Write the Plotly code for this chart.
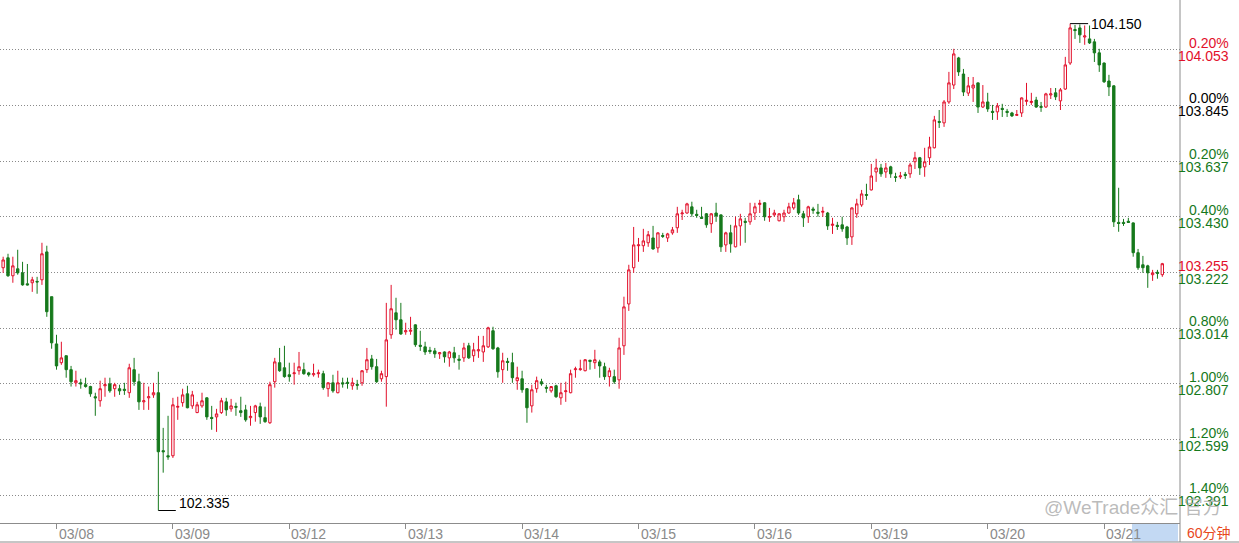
import plotly.graph_objects as go

# ---------------- data (hourly USD index candles) ----------------
opens = [
103.240,103.277,103.210,103.236,103.221,103.180,103.184,103.189,103.195,103.299,
103.132,102.956,102.886,102.912,102.860,102.811,102.811,102.804,102.797,102.759,
102.744,102.800,102.807,102.789,102.789,102.787,102.774,102.860,102.815,102.740,
102.755,102.766,102.774,102.558,102.539,102.539,102.720,102.737,102.770,102.725,
102.700,102.725,102.755,102.682,102.684,102.700,102.740,102.714,102.723,102.707,
102.710,102.681,102.700,102.722,102.681,102.662,102.815,102.886,102.867,102.841,
102.845,102.856,102.860,102.848,102.841,102.845,102.845,102.789,102.811,102.774,
102.811,102.813,102.800,102.805,102.811,102.860,102.900,102.871,102.826,102.834,
102.990,103.072,103.046,103.001,103.003,103.027,102.951,102.945,102.932,102.930,
102.919,102.926,102.904,102.923,102.899,102.904,102.949,102.912,102.930,102.926,
102.945,103.005,102.941,102.860,102.891,102.886,102.819,102.826,102.789,102.725,
102.789,102.815,102.794,102.781,102.800,102.755,102.778,102.774,102.860,102.860,
102.856,102.895,102.886,102.889,102.871,102.834,102.834,102.822,102.949,103.105,
103.240,103.322,103.322,103.333,103.351,103.314,103.360,103.351,103.370,103.389,
103.441,103.444,103.467,103.439,103.428,103.441,103.404,103.444,103.437,103.325,
103.370,103.318,103.396,103.413,103.411,103.444,103.476,103.482,103.428,103.437,
103.415,103.430,103.444,103.463,103.493,103.441,103.430,103.459,103.447,103.447,
103.444,103.398,103.398,103.400,103.392,103.355,103.441,103.474,103.513,103.530,
103.597,103.612,103.597,103.616,103.579,103.579,103.588,103.590,103.635,103.650,
103.616,103.650,103.687,103.785,103.780,103.858,103.921,104.022,103.962,103.891,
103.910,103.929,103.839,103.858,103.823,103.821,103.834,103.823,103.817,103.808,
103.817,103.860,103.856,103.865,103.841,103.839,103.884,103.892,103.862,103.906,
104.003,104.128,104.134,104.100,104.093,104.082,104.041,104.003,103.936,103.918,
103.409,103.409,103.413,103.407,103.296,103.251,103.247,103.214,103.223,103.214,
]
highs = [
103.281,103.292,103.281,103.307,103.262,103.254,103.206,103.206,103.333,103.322,
103.132,102.990,102.964,102.912,102.874,102.856,102.826,102.830,102.800,102.774,
102.819,102.830,102.830,102.811,102.804,102.811,102.882,102.904,102.845,102.811,
102.797,102.811,102.852,102.643,102.688,102.755,102.759,102.789,102.800,102.781,
102.740,102.774,102.757,102.725,102.714,102.755,102.755,102.751,102.737,102.759,
102.729,102.725,102.729,102.737,102.722,102.815,102.904,102.941,102.949,102.886,
102.886,102.926,102.886,102.852,102.882,102.860,102.856,102.813,102.841,102.856,
102.830,102.830,102.830,102.822,102.858,102.941,102.915,102.900,102.856,103.109,
103.176,103.128,103.109,103.035,103.057,103.029,103.005,102.964,102.945,102.941,
102.926,102.928,102.930,102.945,102.915,102.960,102.960,102.960,102.986,102.986,
103.020,103.020,102.945,102.923,102.904,102.923,102.871,102.856,102.791,102.804,
102.834,102.826,102.804,102.799,102.804,102.811,102.815,102.860,102.871,102.897,
102.899,102.897,102.934,102.897,102.886,102.867,102.860,102.979,103.132,103.251,
103.392,103.351,103.385,103.377,103.396,103.372,103.370,103.370,103.392,103.467,
103.456,103.482,103.486,103.456,103.467,103.444,103.444,103.482,103.439,103.374,
103.400,103.430,103.441,103.426,103.482,103.482,103.493,103.484,103.463,103.456,
103.443,103.456,103.482,103.500,103.512,103.452,103.471,103.467,103.478,103.467,
103.448,103.426,103.411,103.430,103.396,103.465,103.497,103.530,103.553,103.627,
103.646,103.627,103.631,103.620,103.594,103.597,103.597,103.631,103.672,103.653,
103.687,103.728,103.806,103.828,103.865,103.970,104.056,104.026,103.981,103.951,
103.951,103.931,103.921,103.892,103.847,103.854,103.851,103.832,103.821,103.828,
103.875,103.929,103.892,103.877,103.858,103.892,103.910,103.910,103.910,104.026,
104.150,104.145,104.147,104.143,104.143,104.093,104.056,104.005,103.959,103.920,
103.538,103.422,103.426,103.409,103.310,103.284,103.251,103.232,103.232,103.258,
]
lows = [
103.221,103.206,103.184,103.214,103.173,103.174,103.150,103.143,103.176,103.057,
102.938,102.860,102.878,102.830,102.797,102.797,102.789,102.793,102.759,102.688,
102.722,102.759,102.774,102.759,102.766,102.766,102.755,102.800,102.710,102.710,
102.710,102.755,102.335,102.476,102.524,102.531,102.673,102.722,102.716,102.714,
102.698,102.718,102.673,102.636,102.628,102.695,102.688,102.703,102.688,102.684,
102.666,102.651,102.666,102.658,102.662,102.658,102.793,102.852,102.830,102.815,
102.804,102.841,102.841,102.834,102.834,102.830,102.785,102.759,102.774,102.772,
102.793,102.789,102.785,102.785,102.800,102.848,102.860,102.811,102.815,102.722,
102.975,103.009,102.990,102.990,102.990,102.945,102.930,102.915,102.919,102.904,
102.900,102.886,102.871,102.886,102.860,102.889,102.900,102.889,102.904,102.889,
102.941,102.934,102.830,102.811,102.856,102.811,102.785,102.774,102.662,102.700,
102.774,102.800,102.774,102.774,102.755,102.729,102.740,102.772,102.830,102.856,
102.854,102.860,102.863,102.830,102.822,102.797,102.807,102.789,102.915,103.079,
103.221,103.262,103.299,103.318,103.307,103.296,103.351,103.336,103.363,103.370,
103.418,103.441,103.430,103.426,103.422,103.389,103.370,103.411,103.299,103.299,
103.296,103.316,103.322,103.333,103.400,103.418,103.444,103.415,103.411,103.430,
103.413,103.411,103.441,103.456,103.437,103.392,103.407,103.441,103.430,103.430,
103.381,103.366,103.381,103.374,103.325,103.325,103.426,103.467,103.493,103.528,
103.560,103.579,103.575,103.575,103.560,103.571,103.571,103.575,103.608,103.586,
103.579,103.623,103.685,103.761,103.765,103.851,103.906,103.955,103.880,103.880,
103.858,103.817,103.836,103.821,103.791,103.791,103.802,103.802,103.802,103.806,
103.802,103.847,103.847,103.836,103.821,103.836,103.869,103.865,103.828,103.903,
103.996,104.093,104.078,104.071,104.074,104.007,103.970,103.929,103.880,103.392,
103.374,103.396,103.407,103.281,103.232,103.221,103.165,103.191,103.199,103.206,
]
closes = [
103.269,103.210,103.247,103.221,103.176,103.176,103.195,103.187,103.292,103.076,
102.960,102.874,102.904,102.860,102.815,102.819,102.807,102.797,102.770,102.755,
102.789,102.804,102.781,102.804,102.781,102.783,102.867,102.815,102.740,102.744,
102.759,102.774,102.554,102.554,102.535,102.729,102.723,102.766,102.718,102.766,
102.729,102.744,102.684,102.678,102.695,102.744,102.710,102.725,102.720,102.700,
102.673,102.686,102.725,102.684,102.666,102.804,102.889,102.856,102.834,102.834,
102.848,102.871,102.845,102.841,102.845,102.848,102.793,102.811,102.781,102.811,
102.807,102.809,102.811,102.802,102.856,102.897,102.871,102.815,102.845,102.971,
103.087,103.046,102.993,103.005,103.007,102.953,102.947,102.926,102.928,102.919,
102.923,102.908,102.926,102.904,102.895,102.941,102.904,102.934,102.934,102.949,
103.016,102.938,102.852,102.893,102.887,102.830,102.830,102.785,102.718,102.785,
102.819,102.807,102.791,102.797,102.759,102.774,102.781,102.845,102.863,102.863,
102.897,102.891,102.897,102.874,102.834,102.856,102.815,102.941,103.094,103.232,
103.325,103.325,103.340,103.363,103.310,103.370,103.357,103.366,103.381,103.441,
103.444,103.478,103.441,103.435,103.424,103.400,103.441,103.433,103.318,103.370,
103.329,103.396,103.422,103.409,103.441,103.467,103.480,103.430,103.431,103.444,
103.441,103.444,103.467,103.482,103.444,103.426,103.467,103.454,103.443,103.450,
103.396,103.402,103.394,103.385,103.351,103.463,103.478,103.515,103.510,103.582,
103.612,103.590,103.612,103.590,103.577,103.582,103.584,103.623,103.650,103.612,
103.635,103.690,103.791,103.782,103.858,103.929,104.037,103.970,103.895,103.918,
103.921,103.839,103.858,103.832,103.819,103.843,103.830,103.819,103.806,103.811,
103.873,103.864,103.860,103.839,103.838,103.888,103.888,103.877,103.903,103.996,
104.134,104.124,104.108,104.104,104.078,104.041,103.996,103.933,103.914,103.411,
103.405,103.405,103.409,103.296,103.240,103.240,103.221,103.221,103.219,103.255,
]

day_labels = ["03/08", "03/09", "03/12", "03/13", "03/14",
              "03/15", "03/16", "03/19", "03/20", "03/21"]
day_index = [11, 35, 59, 83, 107, 131, 155, 179, 203, 227]

level_prices = [104.053, 103.845, 103.637, 103.430, 103.222,
                103.014, 102.807, 102.599, 102.391]
level_pcts = ["0.20%", "0.00%", "0.20%", "0.40%", "0.60%",
              "0.80%", "1.00%", "1.20%", "1.40%"]
base_price = 103.845
last_price = 103.255
period_label = "60分钟"
watermark = "@WeTrade众汇 官方"

# ---------------- styling ----------------
RED = "#e2102b"
GREEN = "#16791c"
BLACK = "#000000"
AXIS = "#8c8c8c"
FONT = "Liberation Sans, Arial, sans-serif"
CJK = "Liberation Sans, Noto Sans CJK SC, sans-serif"

W, H = 1239, 543
PLOT_R = 1180          # right edge of plot area (px)
PLOT_B = 523           # bottom edge of plot area (px)
band = (542 - PLOT_B) / PLOT_B   # bottom band height in paper units

x = list(range(len(opens)))

fig = go.Figure(go.Candlestick(
    x=x, open=opens, high=highs, low=lows, close=closes,
    increasing=dict(line=dict(color=RED, width=1), fillcolor="white"),
    decreasing=dict(line=dict(color=GREEN, width=1), fillcolor=GREEN),
    whiskerwidth=0, hoverinfo="skip", showlegend=False,
))

annotations = []
shapes = []

# right-hand price / percent labels
nearest = min(range(len(level_prices)), key=lambda i: abs(level_prices[i] - last_price))
xr = 1231 / PLOT_R
for i, (p, pct) in enumerate(zip(level_prices, level_pcts)):
    col = RED if p > base_price + 1e-9 else (BLACK if abs(p - base_price) < 1e-9 else GREEN)
    top_text, top_col = pct, col
    if i == nearest:
        top_text, top_col = f"{last_price:.3f}", RED
    annotations.append(dict(xref="paper", yref="y", x=xr, y=p, xanchor="right",
                            yanchor="middle", yshift=7, text=top_text, showarrow=False,
                            font=dict(family=FONT, size=14, color=top_col)))
    annotations.append(dict(xref="paper", yref="y", x=xr, y=p, xanchor="right",
                            yanchor="middle", yshift=-6, text=f"{p:.3f}", showarrow=False,
                            font=dict(family=FONT, size=14, color=col)))

# date labels to the right of each tick
for d, lab in zip(day_index, day_labels):
    annotations.append(dict(xref="x", yref="paper", x=d, y=0, xanchor="left",
                            yanchor="top", xshift=0, yshift=-1, text=lab, showarrow=False,
                            font=dict(family=FONT, size=14, color="#8a8a8a")))

# highest high / lowest low markers
imax = max(range(len(highs)), key=lambda i: highs[i])
imin = min(range(len(lows)), key=lambda i: lows[i])
shapes.append(dict(type="line", xref="x", yref="y", x0=imax, x1=imax + 3.7,
                   y0=highs[imax], y1=highs[imax], line=dict(color=BLACK, width=1)))
annotations.append(dict(xref="x", yref="y", x=imax + 3.8, y=highs[imax], xanchor="left",
                        yanchor="middle", text=f"{highs[imax]:.3f}", showarrow=False,
                        font=dict(family=FONT, size=14, color=BLACK)))
shapes.append(dict(type="line", xref="x", yref="y", x0=imin, x1=imin + 3.6,
                   y0=lows[imin], y1=lows[imin], line=dict(color=BLACK, width=1)))
annotations.append(dict(xref="x", yref="y", x=imin + 3.9, y=lows[imin], xanchor="left",
                        yanchor="bottom", yshift=-2, text=f"{lows[imin]:.3f}", showarrow=False,
                        font=dict(family=FONT, size=14, color=BLACK)))

# frame lines
shapes.append(dict(type="line", xref="paper", yref="paper", x0=1, x1=1, y0=-band, y1=1,
                   line=dict(color=AXIS, width=1)))
shapes.append(dict(type="line", xref="paper", yref="paper", x0=0, x1=W / PLOT_R,
                   y0=-band, y1=-band, line=dict(color=AXIS, width=1)))
shapes.append(dict(type="rect", xref="paper", yref="paper", x0=1132 / PLOT_R, x1=1178 / PLOT_R,
                   y0=-band + 0.001, y1=-0.001, fillcolor="#c3d9f3", line=dict(width=0),
                   layer="below"))

annotations.append(dict(xref="paper", yref="paper", x=1209 / PLOT_R, y=-band / 2,
                        xanchor="center", yanchor="middle", text=period_label, showarrow=False,
                        font=dict(family=CJK, size=14, color="#e8481c")))
annotations.append(dict(xref="paper", yref="paper", x=1042 / PLOT_R, y=(PLOT_B - 507) / PLOT_B,
                        xanchor="left", yanchor="middle", text=watermark, showarrow=False,
                        font=dict(family=CJK, size=19, color="rgba(175,175,175,0.85)")))

px_per_candle = 4.85
first_px = 3.15
x_lo = -first_px / px_per_candle
x_hi = x_lo + PLOT_R / px_per_candle

fig.update_layout(
    width=W, height=H,
    margin=dict(l=0, r=W - PLOT_R, t=0, b=H - PLOT_B, autoexpand=False),
    paper_bgcolor="white", plot_bgcolor="white",
    shapes=shapes, annotations=annotations,
    xaxis=dict(range=[x_lo, x_hi], rangeslider=dict(visible=False), showgrid=False,
               zeroline=False, showline=True, linecolor=AXIS, linewidth=1,
               tickmode="array", tickvals=day_index, ticks="outside", ticklen=5,
               tickcolor=AXIS, tickwidth=1, showticklabels=False, fixedrange=True),
    yaxis=dict(range=[102.2884, 104.238], side="right", tickmode="array",
               tickvals=level_prices, showticklabels=False, ticks="",
               showgrid=True, gridcolor="#8a8a8a", gridwidth=1, griddash="1px,2px",
               zeroline=False, showline=False, fixedrange=True),
    hovermode=False,
)

fig.write_html("out.html", config={"displayModeBar": False})
